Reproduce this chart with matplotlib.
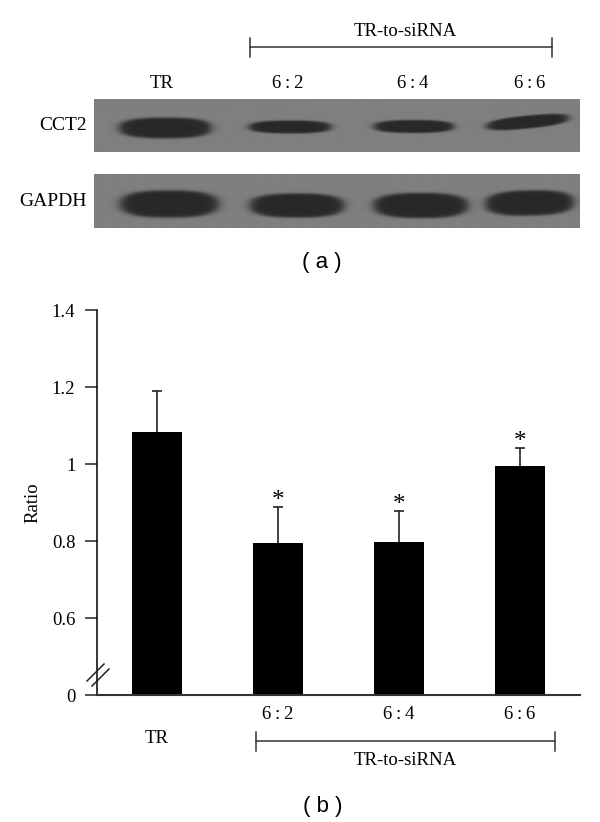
import numpy as np
import matplotlib
matplotlib.use('Agg')
import matplotlib.pyplot as plt

plt.rcParams['font.family'] = ['Liberation Serif', 'DejaVu Serif']

# bar chart values
groups = ['TR', '6\u2009:\u20092', '6\u2009:\u20094', '6\u2009:\u20096']
ratios = [1.084, 0.794, 0.798, 0.996]
err_up = [0.106, 0.095, 0.081, 0.046]
stars = ['', '*', '*', '*']
y_ticks = [0, 0.6, 0.8, 1.0, 1.2, 1.4]
y_labels = ['0', '0.6', '0.8', '1', '1.2', '1.4']

# blot bands in image pixels: x center, y center, half width, half height, tilt
cct2_bands = [(165, 128, 46, 10.5, 0), (290, 127, 41, 6.5, 0), (414, 126.5, 40, 6.5, 0), (528, 122, 41, 6.5, -0.1)]
gapdh_bands = [(169, 204.5, 49, 13.5, 0), (297, 206, 47, 12, 0), (421, 206, 47, 12.5, 0), (530, 203.5, 44, 12.5, -0.02)]

W, H = 600, 822


def to_axis(y):
    y = np.asarray(y, dtype=float)
    return np.where(y < 0.6, y/3, y-0.4)


def from_axis(y):
    y = np.asarray(y, dtype=float)
    return np.where(y < 0.2, y*3, y+0.4)


def blot(axes, bands, top, bottom, left=94, right=580):
    xs, ys = np.meshgrid(np.arange(left, right+0.5), np.arange(top, bottom+0.5))
    field = np.full_like(xs, 0.50, dtype=float)
    for cx, cy, hw, hh, tilt in bands:
        dx = (xs-cx)/hw
        dy = (ys-cy-tilt*(xs-cx))/hh
        d = (np.abs(dx)**2.6+np.abs(dy)**2.6)**(1/2.6)
        amount = 1/(1+np.exp((d-1.0)/0.06))
        field = field*(1-amount)+0.16*amount
    axes.imshow(field, cmap='gray', vmin=0, vmax=1, extent=(left, right, bottom, top),
                interpolation='bilinear', aspect='auto')


def bracket(axes, x0, x1, y, half):
    axes.plot([x0, x1], [y, y], color='#333333', lw=1.1)
    axes.plot([x0, x0], [y-half, y+half], color='#333333', lw=1.1)
    axes.plot([x1, x1], [y-half, y+half], color='#333333', lw=1.1)


fig = plt.figure(figsize=(W/100, H/100), dpi=100)

# bar panel
axes = fig.add_axes([97/W, 1-695/H, (580-97)/W, (695-310)/H])
positions = np.arange(len(groups))
bars = axes.bar(positions, ratios, width=50/121, color='black',
                yerr=[np.zeros(len(err_up)), err_up], ecolor='#222222',
                error_kw={'elinewidth': 1.2, 'capsize': 3.8, 'capthick': 1.2})
bars.errorbar.lines[1][0].set_visible(False)  # only the upper cap
axes.set_yscale('function', functions=(to_axis, from_axis))
axes.set_xlim((97-157)/121, (580-157)/121)
axes.set_ylim(0, 1.4)
axes.set_yticks(y_ticks, y_labels)
axes.minorticks_off()
axes.tick_params(axis='y', length=8.6, width=1.1, labelsize=13.5, pad=7, color='#222222')
axes.set_xticks(positions, groups)
axes.tick_params(axis='x', length=0, labelsize=13.5, pad=8)
axes.xaxis.get_major_ticks()[0].set_pad(25)
axes.spines['top'].set_visible(False)
axes.spines['right'].set_visible(False)
axes.spines['left'].set_linewidth(1.1)
axes.spines['bottom'].set_linewidth(1.5)
axes.spines['bottom'].set_color('#333333')
axes.set_ylabel('Ratio', fontsize=13.5)
axes.yaxis.set_label_coords((41-97)/(580-97), (695-503)/(695-310))
for pos, val, err, star in zip(positions, ratios, err_up, stars):
    axes.annotate(star, (pos, val+err), xytext=(0, -4), textcoords='offset points',
                  ha='center', va='bottom', fontsize=18)

# everything else is laid out in image pixels
overlay = fig.add_axes([0, 0, 1, 1], facecolor='none')
blot(overlay, cct2_bands, 99, 152)
blot(overlay, gapdh_bands, 175, 228)
overlay.set_xlim(0, W)
overlay.set_ylim(H, 0)
overlay.axis('off')

bracket(overlay, 250, 552, 47.5, 9.5)
overlay.text(405, 31, 'TR-to-siRNA', ha='center', va='center', fontsize=13.5)
for x, label in zip([162, 288, 413, 530], groups):
    overlay.text(x, 83, label, ha='center', va='center', fontsize=13.5)
overlay.text(87, 125, 'CCT2', ha='right', va='center', fontsize=14)
overlay.text(87, 201, 'GAPDH', ha='right', va='center', fontsize=14)
overlay.text(322, 262, '( a )', ha='center', va='center', fontsize=16, family=['Liberation Sans'])

bracket(overlay, 255.5, 555, 741, 9.5)
overlay.text(405, 760, 'TR-to-siRNA', ha='center', va='center', fontsize=13.5)
overlay.text(323, 806, '( b )', ha='center', va='center', fontsize=16, family=['Liberation Sans'])

# axis break
overlay.plot([87, 104], [681, 664], color='#222222', lw=1.1)
overlay.plot([92, 109], [686, 669], color='#222222', lw=1.1)

fig.savefig('out.png', dpi=100)
